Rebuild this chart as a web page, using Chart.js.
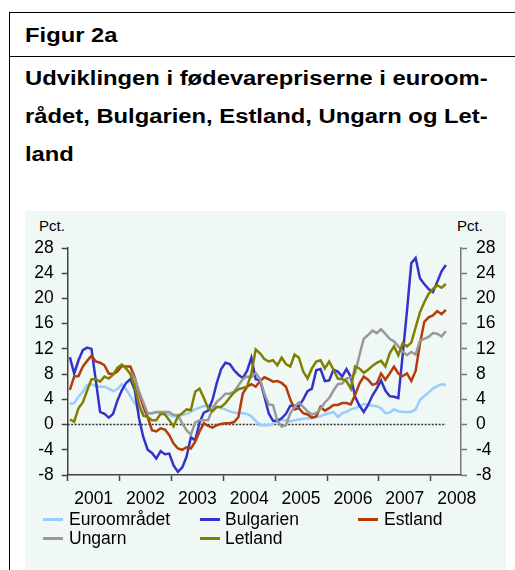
<!DOCTYPE html>
<html>
<head>
<meta charset="utf-8">
<script src="https://cdn.jsdelivr.net/npm/chart.js@4.4.0/dist/chart.umd.min.js"></script>
<style>
html,body{margin:0;padding:0;background:#fff;width:515px;height:570px;overflow:hidden;font-family:"Liberation Sans",Arial,sans-serif;}
.abs{position:absolute;}
.hl{position:absolute;background:#000;height:1px;}
.vl{position:absolute;background:#000;width:1px;}
.t{position:absolute;left:25px;font-weight:bold;font-size:19.5px;line-height:19.5px;white-space:nowrap;transform:scaleX(1.22);transform-origin:0 0;color:#000;}
.panel{position:absolute;left:25px;top:211px;width:481px;height:359px;background:#eff8f5;}
.pct{position:absolute;font-size:15px;line-height:15px;color:#000;white-space:nowrap;}
.lg{position:absolute;font-size:17.5px;line-height:17.5px;color:#000;white-space:nowrap;}
.sw{position:absolute;width:20px;height:3px;}
canvas{position:absolute;left:0;top:0;}
</style>
</head>
<body>
<div class="hl" style="left:9px;top:12px;width:506px;"></div>
<div class="hl" style="left:9px;top:56px;width:506px;"></div>
<div class="vl" style="left:9px;top:12px;height:558px;"></div>
<div class="t" style="top:26px;">Figur 2a</div>
<div class="t" style="top:69px;">Udviklingen i fødevarepriserne i euroom-</div>
<div class="t" style="top:107px;">rådet, Bulgarien, Estland, Ungarn og Let-</div>
<div class="t" style="top:145px;">land</div>
<div class="panel"></div>
<div class="pct" style="left:39px;top:218px;">Pct.</div>
<div class="pct" style="left:457px;top:218px;">Pct.</div>
<canvas id="c" width="515" height="570" style="width:515px;height:570px;"></canvas>
<div id="legend"></div>
<script>
// ---- data (monthly, Jan 2001 - Apr 2008, annual % change) ----
const YEARS = ['2001','2002','2003','2004','2005','2006','2007','2008'];
const SERIES_NAMES = ['Euroområdet','Bulgarien','Estland','Ungarn','Letland'];
const SERIES_COLORS = ['#99ccff','#3333cc','#b23c0a','#999999','#808000'];

const euro = [3.3,3.4,4.4,5.2,6.3,6.4,6.1,6.0,6.0,5.7, 5.3,5.6,6.4,5.6,4.5,3.4,2.2,2.0,1.8,1.8,
  2.0,1.8,1.8,1.5,1.3,1.3,1.5,1.7,2.0,2.4, 2.7,2.9,3.1,2.9,2.8,2.6,2.4,2.1,1.9,1.8,
  1.8,1.7,1.3,0.6,-0.1,-0.1,-0.1,0.1,0.5,0.7, 0.7,0.5,0.7,0.8,0.9,1.0,1.0,1.2,1.3,1.6,
  1.8,2.0,1.2,1.8,2.0,2.4,2.6,2.9,3.3,3.1, 3.0,2.9,2.6,1.8,1.9,2.4,2.1,2.0,2.0,2.0,
  2.4,3.9,4.5,5.1,5.7,6.1,6.4,6.3];
const bulgarien = [10.7,8.1,10.2,11.8,12.2,12.0,7.0,2.0,1.7,1.1, 1.7,3.8,5.4,6.6,7.2,5.5,1.0,-2.0,-4.0,-4.5,
  -5.4,-4.2,-4.7,-4.6,-6.5,-7.5,-6.8,-5.1,-2.0,-2.5, 0.3,1.9,2.2,3.9,6.6,8.8,9.8,9.6,8.6,7.9,
  7.4,8.5,10.6,7.2,7.0,4.5,1.8,0.6,0.6,1.0, 1.7,3.0,3.0,2.9,4.0,5.3,5.7,8.6,8.8,6.9,
  7.0,8.7,8.4,7.6,8.8,7.6,4.4,3.0,2.0,3.1, 4.6,5.7,7.0,5.4,4.5,4.4,4.2,11.0,18.0,25.6,
  26.4,23.2,22.3,21.5,21.0,22.6,24.3,25.3];
const estland = [5.5,7.6,7.7,9.2,10.1,10.9,10.0,9.8,9.4,8.1, 8.0,8.4,9.3,9.2,9.2,7.5,5.0,2.8,1.2,-0.9,
  -1.1,-0.6,-0.8,-1.7,-3.0,-3.8,-4.0,-3.6,-3.8,-2.7, -1.1,0.2,-0.2,-0.5,-0.1,0.1,0.2,0.2,0.4,1.2,
  4.9,6.0,6.4,6.0,6.9,7.5,7.2,6.8,6.9,6.6, 6.0,4.0,2.4,2.6,1.8,1.6,1.1,1.3,2.8,2.2,
  2.6,3.1,3.1,3.4,3.4,3.2,4.7,6.5,7.6,7.1, 6.3,6.5,8.1,7.1,8.1,9.2,8.1,7.7,8.1,6.9,
  8.5,12.8,16.3,17.0,17.3,18.0,17.5,18.2];
const ungarn = [null,null,null,null,null,null,null,null,null,null, null,null,null,null,8.4,7.3,5.3,3.5,1.8,1.8,
  2.0,2.0,2.0,2.0,1.5,1.5,0.2,-0.9,-1.6,0.3, 0.7,0.7,0.7,2.5,3.6,4.2,4.9,4.9,5.2,6.2,
  7.2,7.6,7.5,8.2,7.2,4.9,3.2,3.1,0.6,-0.3, -0.1,1.8,2.8,3.5,2.8,2.1,1.6,1.8,2.5,3.5,
  4.2,5.4,6.4,6.5,7.3,7.4,8.2,11.0,13.6,14.2, 14.9,14.5,15.1,14.4,13.6,13.2,12.4,11.6,11.0,11.5,
  11.1,13.3,13.6,13.9,14.5,14.4,14.0,14.8];
const letland = [0.8,0.45,2.6,3.5,5.4,7.2,7.2,6.8,7.6,7.3, 7.9,9.0,9.5,8.9,8.0,6.0,3.2,1.4,1.2,0.7,
  0.7,1.7,1.6,0.7,-0.3,1.3,1.8,2.4,2.3,5.2, 5.7,4.2,2.6,2.1,2.8,2.8,3.4,4.3,5.1,5.6,
  5.8,6.0,8.1,11.9,11.3,10.4,10.0,10.2,9.4,10.6, 9.6,9.2,11.1,10.6,8.4,7.3,8.9,10.0,10.2,8.9,
  10.0,8.7,7.3,7.2,6.9,5.7,9.2,8.9,8.2,8.7, 9.3,9.8,10.1,9.2,11.3,12.4,11.0,12.9,12.4,13.0,
  15.4,17.8,19.4,20.7,21.5,22.1,21.7,22.3];

const Y_MIN = -8, Y_MAX = 28, Y_STEP = 4;
const X_MONTHS_SHOWN = 91;      // axis runs Jan 2001 - Jul 2008
const REF_VALUE = 0;            // dotted reference line

const seriesValues = [euro, bulgarien, estland, ungarn, letland];
const N = euro.length;

// ---- chart ----
const FONT = '"Liberation Sans", Arial, sans-serif';
const toPts = arr => arr.map((v, i) => ({x: i + 0.5, y: v}));
const xTickVals = [];
for (let m = 0; m <= X_MONTHS_SHOWN; m += 6) xTickVals.push(m);

const zeroLine = {
  id: 'zeroLine',
  beforeDatasetsDraw(chart) {
    const {ctx, scales: {x, y}} = chart;
    const yy = y.getPixelForValue(REF_VALUE);
    ctx.save();
    ctx.strokeStyle = '#333';
    ctx.lineWidth = 1.5;
    ctx.setLineDash([2, 1.5]);
    ctx.beginPath();
    ctx.moveTo(x.getPixelForValue(0), yy);
    ctx.lineTo(x.getPixelForValue(N - 0.5), yy);
    ctx.stroke();
    ctx.restore();
  }
};

const yCommon = {
  min: Y_MIN, max: Y_MAX,
  ticks: {stepSize: Y_STEP, color: '#000', font: {family: FONT, size: 17.5}},
  grid: {drawOnChartArea: false, drawTicks: true, tickLength: 6, tickWidth: 1.5},
  border: {display: true, width: 1.5}
};

new Chart(document.getElementById('c'), {
  type: 'line',
  data: {
    datasets: SERIES_NAMES.map((name, k) => ({
      label: name,
      data: toPts(seriesValues[k]),
      borderColor: SERIES_COLORS[k],
      backgroundColor: SERIES_COLORS[k],
      borderWidth: 2.5,
      pointRadius: 0,
      tension: 0,
      fill: false,
      yAxisID: 'y',
      order: SERIES_NAMES.length - k
    }))
  },
  options: {
    responsive: false,
    animation: false,
    layout: {padding: {left: 20, right: 10, top: 248, bottom: 55}},
    plugins: {legend: {display: false}, tooltip: {enabled: false}},
    scales: {
      x: {
        type: 'linear', min: 0, max: X_MONTHS_SHOWN,
        afterBuildTicks: s => { s.ticks = xTickVals.map(v => ({value: v})); },
        afterFit: s => { s.height = 40; s.paddingLeft = 0; s.paddingRight = 0; },
        ticks: {
          autoSkip: false, maxRotation: 0, minRotation: 0, padding: 8,
          color: '#000', font: {family: FONT, size: 17.5},
          callback: v => (v % 12 === 6 ? YEARS[(v - 6) / 12] : '')
        },
        grid: {
          drawOnChartArea: false, drawTicks: true, tickLength: 6, tickWidth: 1.5,
          tickColor: c => (c.tick && c.tick.value % 12 === 0) ? '#444' : 'rgba(0,0,0,0)'
        },
        border: {display: true, color: '#444', width: 1.5}
      },
      y: Object.assign({}, yCommon, {
        position: 'left',
        afterFit: s => { s.width = 47.7; },
        ticks: Object.assign({}, yCommon.ticks, {padding: 8}),
        grid: Object.assign({}, yCommon.grid, {tickColor: '#444'}),
        border: Object.assign({}, yCommon.border, {color: '#444'})
      }),
      y2: Object.assign({}, yCommon, {
        position: 'right',
        afterFit: s => { s.width = 44; },
        ticks: Object.assign({}, yCommon.ticks, {padding: 9}),
        grid: Object.assign({}, yCommon.grid, {tickColor: '#777'}),
        border: Object.assign({}, yCommon.border, {color: '#777'})
      })
    }
  },
  plugins: [zeroLine]
});

// ---- legend (HTML) ----
const legendPos = [
  {sx: 43, tx: 69, row: 0}, {sx: 200, tx: 225, row: 0}, {sx: 358, tx: 384, row: 0},
  {sx: 43, tx: 69, row: 1}, {sx: 200, tx: 225, row: 1}
];
const rowSwatchY = [518, 537];
const rowTextTop = [511, 530];
const lg = document.getElementById('legend');
SERIES_NAMES.forEach((name, k) => {
  const p = legendPos[k];
  const sw = document.createElement('div');
  sw.className = 'sw';
  sw.style.left = p.sx + 'px';
  sw.style.top = rowSwatchY[p.row] + 'px';
  sw.style.background = SERIES_COLORS[k];
  lg.appendChild(sw);
  const t = document.createElement('div');
  t.className = 'lg';
  t.style.left = p.tx + 'px';
  t.style.top = rowTextTop[p.row] + 'px';
  t.textContent = name;
  lg.appendChild(t);
});
</script>
</body>
</html>
